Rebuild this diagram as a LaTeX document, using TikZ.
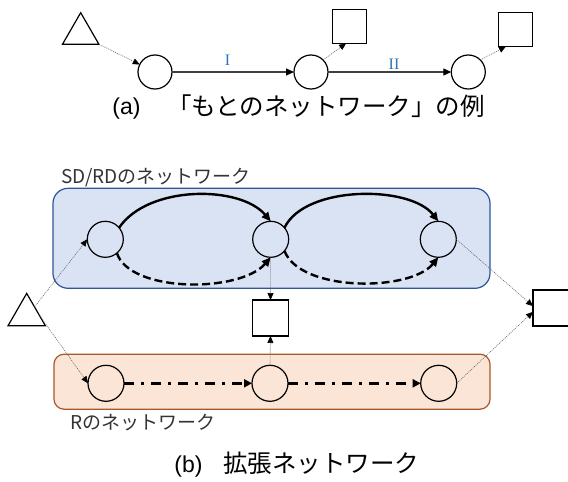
\documentclass[tikz,border=0pt]{standalone}
\usepackage{fontspec}
\setmainfont{Liberation Sans}
\newfontfamily\jpfont{Noto Sans CJK JP}
\newfontfamily\romfont{Liberation Serif}
\usetikzlibrary{arrows.meta,shapes.geometric,calc}
\definecolor{boxblue}{HTML}{DAE3F3}
\definecolor{edgeblue}{HTML}{2F5597}
\definecolor{boxorange}{HTML}{FBE5D6}
\definecolor{edgeorange}{HTML}{A9582A}
\definecolor{labelblue}{HTML}{2E75B6}
\begin{document}
\begin{tikzpicture}[x=1pt,y=-1pt,
  acirc/.style={circle,draw=black,line width=1.2pt,minimum size=34pt,inner sep=0pt,outer sep=0pt},
  bcirc/.style={acirc,minimum size=36pt},
  asq/.style={rectangle,draw=black,line width=1.2pt,minimum size=34pt,inner sep=0pt,outer sep=0pt,fill=white},
  bsq/.style={asq,minimum size=36pt},
  tri/.style={regular polygon,regular polygon sides=3,draw=black,line width=1.2pt,inner sep=0pt,outer sep=0pt},
  dotarrow/.style={draw=black!60,line width=0.6pt,dash pattern=on 1pt off 1pt,-{Triangle[length=7pt,width=6pt,color=black]}},
  solidarrow/.style={draw=black!75,line width=1.2pt,-{Triangle[length=8pt,width=7pt,color=black]}},
  thickarc/.style={draw=black,line width=2.4pt,-{Triangle[length=9pt,width=8pt]}},
  dasharc/.style={thickarc,dash pattern=on 8pt off 4pt},
  dotdash/.style={draw=black,line width=2.5pt,dash pattern=on 10pt off 7pt on 3pt off 7pt,-{Triangle[length=8pt,width=8pt]}},
  netlabel/.style={anchor=base west,inner sep=0pt,text=black!80,font=\jpfont\fontsize{19}{19}\selectfont},
  capmark/.style={anchor=base,inner sep=0pt,font=\fontsize{23}{23}\selectfont},
  captext/.style={anchor=base,inner sep=0pt,font=\jpfont\fontsize{24.5}{24.5}\selectfont},
  roman/.style={inner sep=0pt,text=labelblue,font=\romfont\fontsize{16}{16}\selectfont}
]
\useasboundingbox (0,0) rectangle (568,482);

% ---------- (a) ----------
\node[tri,minimum size=42pt] (ta) at (80.7,33.7) {};
\node[acirc] (a1) at (155,72) {};
\node[acirc] (a2) at (311,72) {};
\node[acirc] (a3) at (468.3,72) {};
\node[asq] (sa1) at (349.7,26.3) {};
\node[asq] (sa2) at (515.3,29.5) {};
\draw[dotarrow] (ta.corner 3) -- (a1);
\draw[solidarrow] (a1.east) -- (a2.west);
\draw[solidarrow] (a2.east) -- (a3.west);
\draw[dotarrow] (a2.45) -- (sa1.258);
\draw[dotarrow] (a3.45) -- (sa2.241);
\node[roman] (lab1) at (227.5,60.5) {I};
\node[roman] (lab2) at (394,64.5) {II};
\node[capmark] (capa) at (126.5,114) {(a)};
\node[captext] (capatext) at (326,115) {「もとのネットワーク」の例};

% ---------- (b) ----------
\node[draw=edgeblue,line width=1.2pt,fill=boxblue,rounded corners=15pt,minimum width=437pt,minimum height=100pt,inner sep=0pt] (sdnet) at (271.5,238.3) {};
\node[draw=edgeorange,line width=1.2pt,fill=boxorange,rounded corners=10pt,minimum width=436pt,minimum height=55pt,inner sep=0pt] (rnet) at (272,381.7) {};
\node[netlabel] (sdlabel) at (61,183.3) {SD/RDのネットワーク};
\node[netlabel] (rlabel) at (70,429.3) {Rのネットワーク};

\node[tri,minimum size=43pt] (tb) at (26.7,314.9) {};
\node[bcirc] (b1) at (105.3,239.3) {};
\node[bcirc] (b2) at (270.7,239.3) {};
\node[bcirc] (b3) at (438.3,239.3) {};
\node[bcirc] (r1) at (106,383.3) {};
\node[bcirc] (r2) at (270,383.3) {};
\node[bcirc] (r3) at (438.7,383.3) {};
\node[bsq] (sqm) at (270.5,318) {};
\node[bsq] (sqr) at (551,308) {};

\draw[thickarc] (b1.40) .. controls (148,185) and (240,185) .. (b2.north);
\draw[thickarc] (b2.40) .. controls (305,185) and (410,185) .. (b3.north);
\draw[dasharc] (b1.-50) .. controls (130,293) and (240,293) .. (b2.south);
\draw[dasharc] (b2.-40) .. controls (300,292) and (410,292) .. (b3.south);
\draw[dotdash] (r1.east) -- (r2.west);
\draw[dotdash] (r2.east) -- (r3.west);

\draw[dotarrow] ($(tb.corner 1)!0.42!(tb.corner 3)$) -- (b1.west);
\draw[dotarrow] ($(tb.corner 1)!0.65!(tb.corner 3)$) -- (r1.west);
\draw[dotarrow] (b2.south) -- (sqm.north);
\draw[dotarrow] (r2.north) -- (sqm.south);
\draw[dotarrow] (b3.east) -- (sqr.174);
\draw[dotarrow] (r3.east) -- (sqr.192);

\node[capmark] (capb) at (188.5,472.5) {(b)};
\node[captext] (capbtext) at (321,472) {拡張ネットワーク};
\end{tikzpicture}
\end{document}
